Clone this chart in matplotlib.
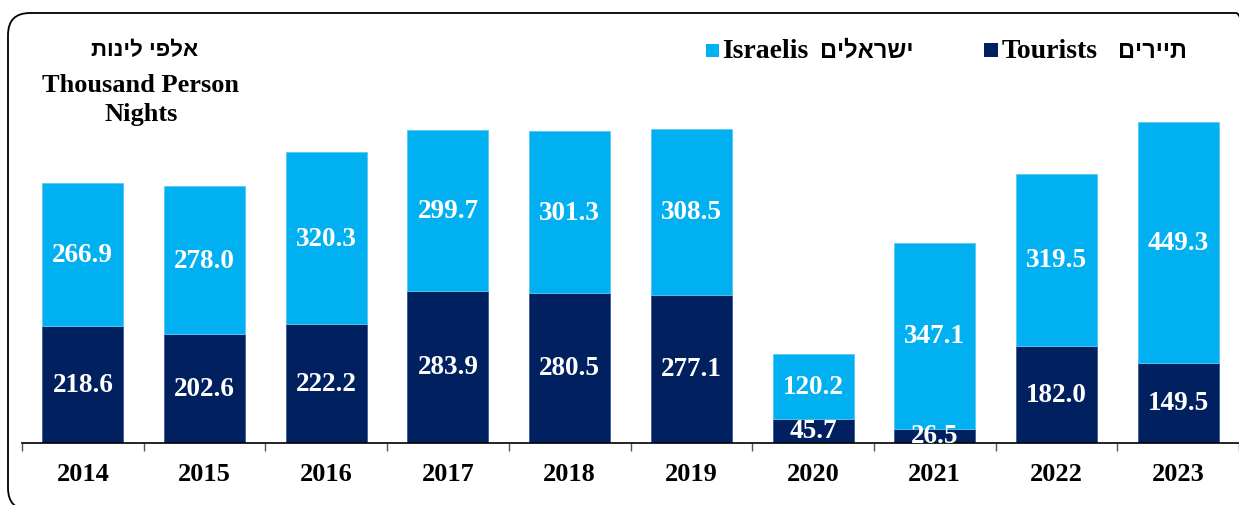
import numpy as np
import matplotlib.pyplot as plt
from matplotlib.patches import FancyBboxPatch, Rectangle

years = ['2014', '2015', '2016', '2017', '2018', '2019', '2020', '2021', '2022', '2023']
tourists = [218.6, 202.6, 222.2, 283.9, 280.5, 277.1, 45.7, 26.5, 182.0, 149.5]
israelis = [266.9, 278.0, 320.3, 299.7, 301.3, 308.5, 120.2, 347.1, 319.5, 449.3]

heb_unit = 'אלפי לינות'
heb_israelis = 'ישראלים'
heb_tourists = 'תיירים'

c_light = '#00B0F0'
c_dark = '#002060'

plt.rcParams['font.family'] = ['Liberation Serif', 'DejaVu Serif']
plt.rcParams['font.weight'] = 'bold'
heb_font = ['Liberation Sans', 'DejaVu Sans']

W, H = 1239, 506
fig = plt.figure(figsize=(W / 100, H / 100), dpi=100)
ax = fig.add_axes([22 / W, 62 / H, 1217 / W, 374.9 / H])

x = np.arange(len(years))
t = np.array(tourists)
s = np.array(israelis)
ax.bar(x, t, width=0.665, color=c_dark, edgecolor='#3a5a9a', linewidth=0.6)
ax.bar(x, s, width=0.665, bottom=t, color=c_light, edgecolor='#5cc8f0', linewidth=0.6)

# 数值标签
for i in range(len(years)):
    ax.text(x[i], t[i] / 2, f'{t[i]:.1f}', ha='center', va='center',
            color='white', fontsize=19.5, fontweight='bold')
    ax.text(x[i], t[i] + s[i] / 2, f'{s[i]:.1f}', ha='center', va='center',
            color='white', fontsize=19.5, fontweight='bold')

ax.set_xlim(-0.5, len(years) - 0.5)
ax.set_ylim(0, 700)
ax.set_yticks([])
ax.set_xticks(x)
ax.set_xticklabels(years, fontsize=19, fontweight='bold')
ax.tick_params(axis='x', which='major', length=0, pad=14)
ax.set_xticks(np.arange(-0.5, len(years)), minor=True)
ax.tick_params(axis='x', which='minor', length=6, width=1, color='#555555', direction='out')
for side in ['left', 'right', 'top']:
    ax.spines[side].set_visible(False)
ax.spines['bottom'].set_linewidth(1.2)

# 标题 (希伯来文需反转显示)
fig.text(145 / W, 1 - 51 / H, heb_unit[::-1], ha='center', va='center', fontsize=16,
         fontweight='bold', family=heb_font)
fig.text(141 / W, 1 - 85 / H, 'Thousand Person', ha='center', va='center', fontsize=19, fontweight='bold')
fig.text(141 / W, 1 - 115 / H, 'Nights', ha='center', va='center', fontsize=19, fontweight='bold')

# 图例
fig.patches.append(Rectangle((706 / W, 1 - 58 / H), 13 / W, 13 / H, transform=fig.transFigure,
                             facecolor=c_light, edgecolor='none'))
fig.text(722 / W, 1 - 52 / H, 'Israelis', ha='left', va='center', fontsize=20, fontweight='bold')
fig.text(913 / W, 1 - 51 / H, heb_israelis[::-1], ha='right', va='center', fontsize=17,
         fontweight='bold', family=heb_font)
fig.patches.append(Rectangle((984 / W, 1 - 58 / H), 14 / W, 14 / H, transform=fig.transFigure,
                             facecolor=c_dark, edgecolor='none'))
fig.text(1002 / W, 1 - 52 / H, 'Tourists', ha='left', va='center', fontsize=20, fontweight='bold')
fig.text(1187 / W, 1 - 51 / H, heb_tourists[::-1], ha='right', va='center', fontsize=17,
         fontweight='bold', family=heb_font)

# 边框
frame = FancyBboxPatch((8, -5), 1250, H - 14 + 5, boxstyle='round,pad=0,rounding_size=22',
                       transform=None, facecolor='none', edgecolor='black', linewidth=1.3)
fig.patches.append(frame)

fig.savefig('out.png', dpi=100)
